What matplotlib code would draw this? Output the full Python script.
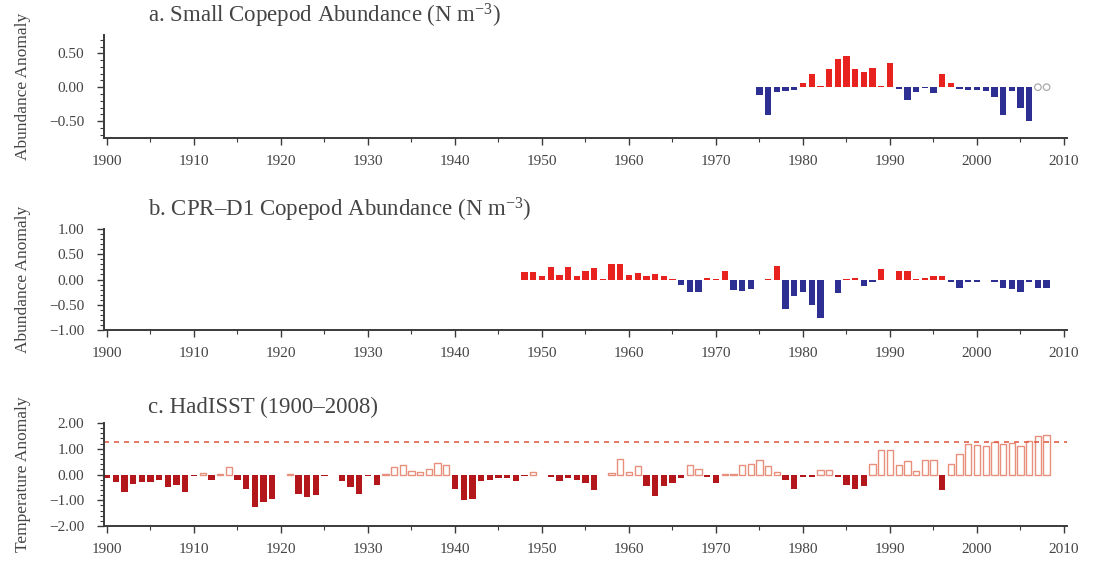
import numpy as np
import matplotlib
matplotlib.use("Agg")
import matplotlib.pyplot as plt
from matplotlib.ticker import MultipleLocator

plt.rcParams["font.family"] = ["Liberation Serif", "DejaVu Serif"]
plt.rcParams["mathtext.fontset"] = "custom"
plt.rcParams["mathtext.rm"] = "Liberation Serif"
plt.rcParams["mathtext.it"] = "Liberation Serif:italic"

# a. small copepod abundance anomaly, 1975-2006 (+ 2007-2008 not yet available)
years_a = list(range(1975, 2007))
small_cop = [-0.12, -0.41, -0.07, -0.05, -0.04, 0.06, 0.19, 0.01, 0.27, 0.41,
             0.46, 0.27, 0.23, 0.28, 0.01, 0.35, -0.03, -0.19, -0.07, -0.01,
             -0.08, 0.19, 0.06, -0.03, -0.04, -0.04, -0.05, -0.14, -0.41, -0.05,
             -0.31, -0.50]
years_a_missing = [2007, 2008]

# b. CPR-D1 copepod abundance anomaly, 1948-2008
years_b = list(range(1948, 2009))
cpr_d1 = [0.15, 0.15, 0.07, 0.25, 0.09, 0.25, 0.07, 0.16, 0.23, 0.01,
          0.31, 0.31, 0.08, 0.13, 0.06, 0.11, 0.06, 0.01, -0.11, -0.25,
          -0.25, 0.03, 0.01, 0.16, -0.21, -0.23, -0.19, 0.00, 0.01, 0.27,
          -0.59, -0.32, -0.24, -0.51, -0.77, 0.00, -0.27, 0.01, 0.03, -0.12,
          -0.05, 0.21, 0.00, 0.16, 0.16, 0.01, 0.02, 0.06, 0.06, -0.04,
          -0.16, -0.04, -0.04, 0.00, -0.04, -0.17, -0.19, -0.25, -0.05, -0.17,
          -0.17]

# c. HadISST temperature anomaly, 1900-2008
years_c = list(range(1900, 2009))
sst = [-0.15, -0.29, -0.67, -0.35, -0.29, -0.29, -0.23, -0.49, -0.39, -0.69,
       -0.06, 0.06, -0.22, 0.03, 0.30, -0.22, -0.58, -1.27, -1.08, -0.94,
       -0.02, 0.03, -0.74, -0.87, -0.80, -0.05, -0.03, -0.26, -0.49, -0.74,
       -0.06, -0.42, 0.02, 0.29, 0.35, 0.15, 0.10, 0.22, 0.45, 0.38,
       -0.58, -1.00, -0.97, -0.26, -0.23, -0.12, -0.13, -0.26, -0.05, 0.10,
       -0.03, -0.10, -0.26, -0.12, -0.23, -0.32, -0.62, -0.03, 0.05, 0.62,
       0.10, 0.32, -0.45, -0.84, -0.45, -0.32, -0.12, 0.36, 0.20, -0.08,
       -0.32, 0.01, 0.02, 0.36, 0.39, 0.58, 0.32, 0.10, -0.22, -0.55,
       -0.08, -0.08, 0.17, 0.17, -0.08, -0.42, -0.58, -0.45, 0.39, 0.97,
       0.97, 0.35, 0.52, 0.15, 0.55, 0.55, -0.62, 0.39, 0.78, 1.17,
       1.14, 1.10, 1.27, 1.19, 1.23, 1.10, 1.30, 1.49, 1.55]
sst_threshold = 1.25

RED = "#e8231f"
BLUE = "#2d2f92"
DARKRED = "#b3161b"
PINK = "#e88f7c"
AXC = "#3a3a3a"
TXT = "#444444"

W, H = 1101, 563
fig = plt.figure(figsize=(W / 100, H / 100), dpi=100)


def make_ax(top, bottom):
    left, right = 103.5, 1066.6
    return fig.add_axes([left / W, 1 - bottom / H, (right - left) / W, (bottom - top) / H])


def style(ax, ylim, ticks, minor, ylabel, title):
    ax.set_xlim(1899.6, 2010.3)
    ax.set_ylim(*ylim)
    for s in ["top", "right"]:
        ax.spines[s].set_visible(False)
    for s in ["left", "bottom"]:
        ax.spines[s].set_color(AXC)
        ax.spines[s].set_linewidth(1.4)
    ax.xaxis.set_major_locator(MultipleLocator(10))
    ax.xaxis.set_minor_locator(MultipleLocator(5))
    ax.yaxis.set_minor_locator(MultipleLocator(minor))
    ax.set_yticks(ticks)
    ax.set_yticklabels([f"{v:.2f}".replace("-", "\u2212") for v in ticks])
    ax.tick_params(axis="both", which="major", length=5, width=1.0, color=AXC,
                   labelsize=11, labelcolor=TXT)
    ax.tick_params(axis="both", which="minor", length=3, width=0.8, color=AXC)
    ax.tick_params(axis="x", pad=7)
    ax.tick_params(axis="y", pad=9)
    ax.set_ylabel(ylabel, fontsize=12.5, color=TXT, labelpad=13)
    ax.text(0.046, 1.05, title, transform=ax.transAxes, fontsize=16.5,
            color=TXT, ha="left", va="bottom")


# panel a
ax = make_ax(35, 138)
vals = np.array(small_cop)
ax.bar(years_a, vals, width=0.72, color=np.where(vals >= 0, RED, BLUE), linewidth=0)
ax.scatter(years_a_missing, [0, 0], s=22, facecolors="none", edgecolors="#aaaaaa", linewidths=0.9)
style(ax, (-0.75, 0.77), [-0.5, 0.0, 0.5], 0.1, "Abundance Anomaly",
      "a. Small Copepod Abundance (N m$^{\u22123}$)")

# panel b
ax = make_ax(229, 330)
vals = np.array(cpr_d1)
ax.bar(years_b, vals, width=0.72, color=np.where(vals >= 0, RED, BLUE), linewidth=0)
style(ax, (-1.0, 1.0), [-1.0, -0.5, 0.0, 0.5, 1.0], 0.1, "Abundance Anomaly",
      "b. CPR\u2013D1 Copepod Abundance (N m$^{\u22123}$)")

# panel c
ax = make_ax(423, 526)
vals = np.array(sst)
yrs = np.array(years_c)
neg = vals < 0
ax.bar(yrs[neg], vals[neg], width=0.72, color=DARKRED, linewidth=0)
ax.bar(yrs[~neg], vals[~neg], width=0.72, facecolor="white", edgecolor=PINK, linewidth=1.0)
ax.axhline(sst_threshold, color="#e0604a", lw=1.2, ls=(0, (3, 3)))
style(ax, (-2.0, 2.0), [-2.0, -1.0, 0.0, 1.0, 2.0], 0.2, "Temperature Anomaly",
      "c. HadISST (1900\u20132008)")

fig.savefig("out.png", dpi=100)
